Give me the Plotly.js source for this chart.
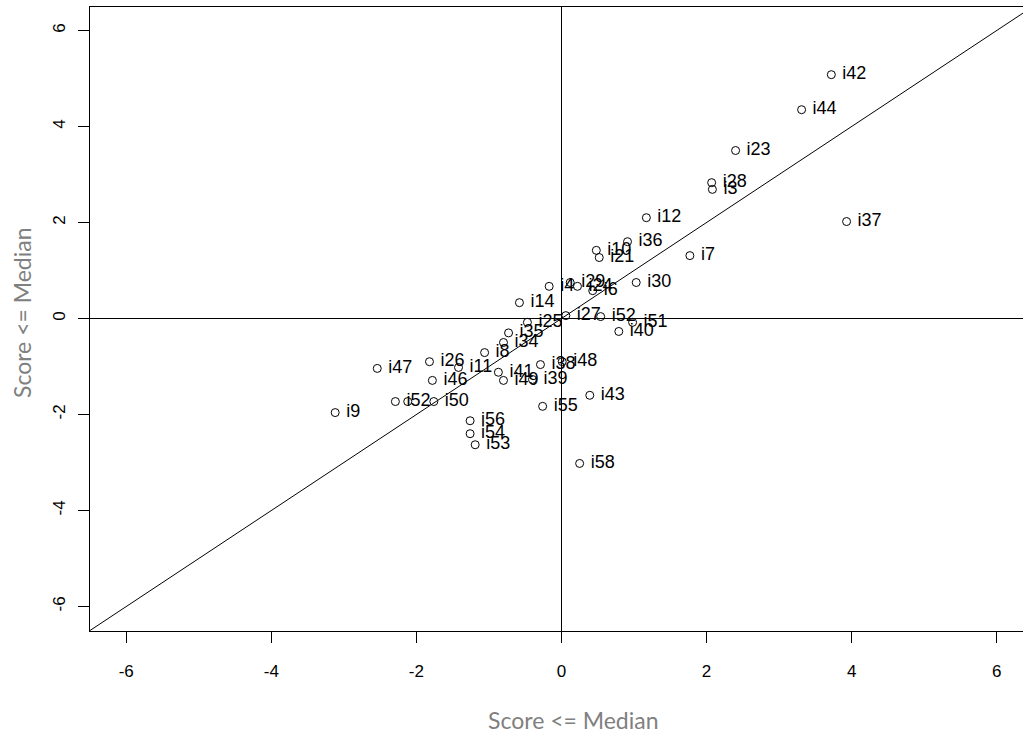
<!DOCTYPE html>
<html>
<head>
<meta charset="utf-8">
<script src="https://cdn.plot.ly/plotly-3.0.1.min.js"></script>
<style>
  html, body { margin: 0; padding: 0; overflow: hidden; background: #fff; }
  #chart { width: 1060px; height: 735px; }
</style>
</head>
<body>
<div id="chart"></div>
<script>
// Item scores: above-median group (y) versus below-median group (x)
const itemLabels = [
  "i42", "i44", "i23", "i28", "i3", "i37", "i12", "i36", "i10", "i21",
  "i7", "i30", "i4", "i29", "i24", "i6", "i14", "i27", "i52", "i51",
  "i40", "i25", "i35", "i34", "i8", "i11", "i41", "i49", "i39", "i38",
  "i48", "i26", "i46", "i47", "i52", "", "i50", "i9", "i56", "i54",
  "i53", "i55", "i43", "i58"
];
const scoreLow = [
  3.72, 3.31, 2.40, 2.07, 2.08, 3.93, 1.17, 0.91, 0.48, 0.52,
  1.77, 1.03, -0.17, 0.12, 0.22, 0.43, -0.58, 0.06, 0.54, 0.98,
  0.79, -0.47, -0.73, -0.80, -1.06, -1.42, -0.87, -0.80, -0.40, -0.29,
  0.01, -1.82, -1.78, -2.54, -2.29, -2.12, -1.76, -3.12, -1.26, -1.26,
  -1.19, -0.26, 0.39, 0.25
];
const scoreHigh = [
  5.08, 4.35, 3.50, 2.83, 2.69, 2.02, 2.10, 1.60, 1.42, 1.27,
  1.31, 0.75, 0.67, 0.75, 0.67, 0.58, 0.33, 0.06, 0.04, -0.08,
  -0.27, -0.08, -0.30, -0.50, -0.71, -1.02, -1.12, -1.29, -1.27, -0.96,
  -0.90, -0.90, -1.29, -1.04, -1.73, -1.73, -1.73, -1.96, -2.13, -2.40,
  -2.63, -1.83, -1.60, -3.02
];
const tickValues = [-6, -4, -2, 0, 2, 4, 6];
const tickLabels = ["-6", "-4", "-2", "0", "2", "4", "6"];
const xRange = [-6.5, 6.5];
// nudged by half a pixel so the y = 0 rule renders crisply
const yRange = [-6.5104, 6.4896];
const refSlope = 1;
const refIntercept = 0;
const axisTitle = "Score <= Median";

const points = {
  type: "scatter",
  mode: "markers+text",
  x: scoreLow,
  y: scoreHigh,
  text: itemLabels,
  // a small gap between each circle and its label
  texttemplate: "\u00a0%{text}",
  textposition: "middle right",
  textfont: { family: "Liberation Sans, Arial, sans-serif", size: 18, color: "#000" },
  marker: { symbol: "circle-open", size: 8, color: "#000", line: { width: 1, color: "#000" } },
  cliponaxis: false,
  hoverinfo: "x+y+text",
  showlegend: false
};

const tickFont = { family: "Liberation Sans, Arial, sans-serif", size: 17, color: "#000" };
const titleFont = { family: "Lato, sans-serif", size: 23, color: "#808080" };

const axisCommon = {
  tickmode: "array",
  tickvals: tickValues,
  ticktext: tickLabels,
  ticks: "outside",
  ticklen: 11,
  tickwidth: 1,
  tickcolor: "#000",
  showline: true,
  mirror: true,
  linecolor: "#000",
  linewidth: 1,
  showgrid: false,
  zeroline: false,
  tickfont: tickFont,
  fixedrange: true
};

const layout = {
  width: 1060,
  height: 735,
  margin: { l: 90, r: 27, t: 7, b: 104 },
  paper_bgcolor: "#fff",
  plot_bgcolor: "#fff",
  xaxis: Object.assign({}, axisCommon, { range: xRange, ticklabelstandoff: 14 }),
  yaxis: Object.assign({}, axisCommon, { range: yRange, tickangle: -90, ticklabelstandoff: 6 }),
  shapes: [
    // reference lines: zero axes and the identity line
    { type: "line", xref: "x", yref: "y", x0: xRange[0], x1: xRange[1], y0: 0, y1: 0,
      line: { color: "#000", width: 1 } },
    { type: "line", xref: "x", yref: "y", x0: 0, x1: 0, y0: yRange[0], y1: yRange[1],
      line: { color: "#000", width: 1 } },
    { type: "line", xref: "x", yref: "y",
      x0: xRange[0], y0: refIntercept + refSlope * xRange[0],
      x1: xRange[1], y1: refIntercept + refSlope * xRange[1],
      line: { color: "#000", width: 1 } }
  ],
  annotations: [
    { text: axisTitle, xref: "paper", yref: "paper", x: 0.513, y: -0.1426,
      xanchor: "center", yanchor: "middle", showarrow: false, font: titleFont },
    { text: axisTitle, xref: "paper", yref: "paper", x: -0.0721, y: 0.5096,
      xanchor: "center", yanchor: "middle", textangle: -90, showarrow: false, font: titleFont }
  ]
};

Plotly.newPlot("chart", [points], layout, { displayModeBar: false });
</script>
</body>
</html>
